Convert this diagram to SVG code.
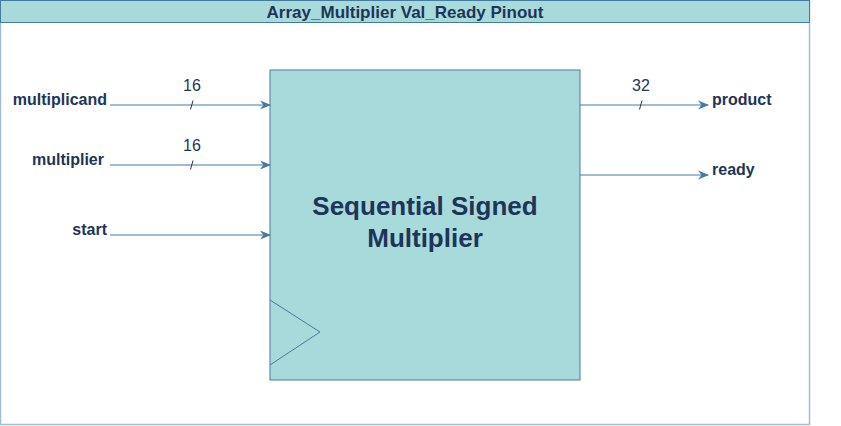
<svg xmlns="http://www.w3.org/2000/svg" width="841" height="426" viewBox="0 0 841 426">
<defs>
<style>
.lbl{font-family:"Liberation Sans",Arial,sans-serif;font-weight:bold;font-size:16px;fill:#1D3557}
.num{font-family:"Liberation Sans",Arial,sans-serif;font-size:16px;fill:#1D3557;text-anchor:middle}
.wire{stroke:#457B9D;stroke-width:1;fill:none}
.tick{stroke:#1D3557;stroke-width:1;fill:none}
</style>
<marker id="arr" viewBox="0 0 10 10" refX="9" refY="5" markerWidth="11" markerHeight="11" markerUnits="userSpaceOnUse" orient="auto">
<path d="M0,1 L10,5 L0,9 L3,5 Z" fill="#457B9D"/>
</marker>
</defs>
<rect width="841" height="426" fill="#ffffff"/>
<g id="frame">
<rect x="0.5" y="0.5" width="809" height="424" fill="#ffffff" stroke="#9fbfd2" stroke-width="1.5"/>
<rect x="0.5" y="0.5" width="809" height="22" fill="#A8DADC" stroke="#457B9D" stroke-width="1"/>
<text x="405" y="17.5" text-anchor="middle" class="lbl" style="font-size:17px">Array_Multiplier Val_Ready Pinout</text>
</g>
<g id="multiplier_block">
<rect x="270" y="70" width="310" height="310" fill="#A8DADC" stroke="#457B9D" stroke-width="1"/>
<path d="M270,300 L320,332 L270,365" class="wire"/>
<text x="425" y="215" text-anchor="middle" class="lbl" style="font-size:26px">Sequential Signed</text>
<text x="425" y="247" text-anchor="middle" class="lbl" style="font-size:26px">Multiplier</text>
</g>
<g id="connectors">
<line x1="110" y1="105" x2="270" y2="105" class="wire" marker-end="url(#arr)"/>
<line x1="110" y1="165" x2="270" y2="165" class="wire" marker-end="url(#arr)"/>
<line x1="110" y1="235" x2="270" y2="235" class="wire" marker-end="url(#arr)"/>
<line x1="580" y1="105" x2="708" y2="105" class="wire" marker-end="url(#arr)"/>
<line x1="580" y1="175" x2="708" y2="175" class="wire" marker-end="url(#arr)"/>
<line x1="190.5" y1="109.5" x2="193" y2="100.5" class="tick"/>
<line x1="190.5" y1="169.5" x2="193" y2="160.5" class="tick"/>
<line x1="639.5" y1="109.5" x2="642" y2="100.5" class="tick"/>
<text x="192" y="91" class="num">16</text>
<text x="192" y="151" class="num">16</text>
<text x="641" y="91" class="num">32</text>
</g>
<g id="pins">
<text x="107" y="105" text-anchor="end" class="lbl">multiplicand</text>
<text x="104" y="165" text-anchor="end" class="lbl">multiplier</text>
<text x="107" y="235" text-anchor="end" class="lbl">start</text>
<text x="712" y="105" class="lbl">product</text>
<text x="712" y="175" class="lbl">ready</text>
</g>
</svg>
